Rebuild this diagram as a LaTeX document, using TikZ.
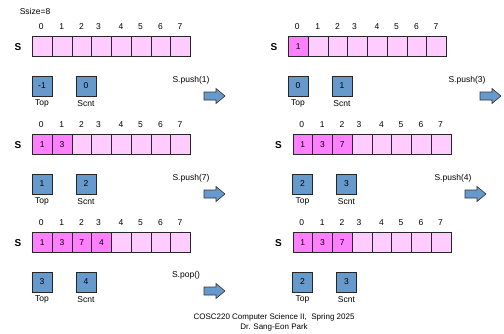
\documentclass[tikz,border=0pt]{standalone}
\usepackage{fontspec}
\setmainfont{Liberation Sans}
\definecolor{pale}{HTML}{FFCCFF}
\definecolor{mag}{HTML}{FF80FF}
\definecolor{boxblue}{HTML}{6699CC}
\newcommand\lblfont{\fontsize{8.5}{10}\selectfont}
\newcommand\footfont{\fontsize{8}{9}\selectfont}
\tikzset{
  cell/.style={draw=black!85, line width=0.8pt, fill=pale, minimum width=19.75pt, minimum height=20pt, inner sep=0pt, anchor=north west, font=\lblfont},
  filled/.style={cell, fill=mag},
  valbox/.style={draw=black!85, line width=0.8pt, fill=boxblue, minimum width=20pt, minimum height=20pt, inner sep=0pt, font=\lblfont},
  lbl/.style={inner sep=0pt, font=\lblfont},
  foot/.style={inner sep=0pt, font=\footfont},
  slabel/.style={inner sep=0pt, font=\fontsize{10}{12}\selectfont\bfseries},
  barrow/.style={draw=black!80, line width=0.6pt, fill=boxblue, line join=miter},
}
\newcommand\stackpanel[6]{%
  \node[slabel] (#1S) at ({#2-14},{#3+11}) {S};
  \foreach \i/\dx in {0/9.3,1/29.8,2/49.4,3/66.5,4/88.9,5/108.6,6/128.4,7/148.1}{
    \node[lbl] (#1i\i) at ({#2+\dx},{#3-9}) {\i};
    \node[cell] (#1c\i) at ({#2+\i*19.75},{#3}) {};
  }
  \if\relax\detokenize{#4}\relax\else
  \foreach \v [count=\k from 0] in {#4}{
    \node[filled] (#1f\k) at ({#2+\k*19.75},{#3}) {\v};
  }\fi
  \node[valbox] (#1top) at ({#2+10},{#3+50}) {#5};
  \node[valbox] (#1cnt) at ({#2+54},{#3+50}) {#6};
  \node[lbl] (#1topl) at ({#2+10},{#3+67.5}) {Top};
  \node[lbl] (#1cntl) at ({#2+54},{#3+67.5}) {Scnt};
}
\newcommand\blockarrow[2]{%
  \draw[barrow] ({#1},{#2-4}) -- ({#1+12},{#2-4}) -- ({#1+12},{#2-7.5}) -- ({#1+21},{#2}) -- ({#1+12},{#2+7.5}) -- ({#1+12},{#2+4}) -- ({#1},{#2+4}) -- cycle;
}
\begin{document}
\begin{tikzpicture}[x=1pt,y=-1pt]
\useasboundingbox (0,0) rectangle (504,333);
\node[lbl] (ssize) at (35,11) {Ssize=8};
% row 1
\stackpanel{a}{32}{36}{}{-1}{0}
\stackpanel{b}{288}{36}{1}{0}{1}
\node[lbl] (op1) at (191,80) {S.push(1)};
\node[lbl] (op2) at (467,80) {S.push(3)};
\blockarrow{204}{96}
\blockarrow{480}{96}
% row 2
\stackpanel{c}{32}{134}{1,3}{1}{2}
\stackpanel{d}{292.5}{134}{1,3,7}{2}{3}
\node[lbl] (op3) at (191,178) {S.push(7)};
\node[lbl] (op4) at (453,178) {S.push(4)};
\blockarrow{204}{194}
\blockarrow{465}{194}
% row 3
\stackpanel{e}{32}{232}{1,3,7,4}{3}{4}
\stackpanel{f}{292.5}{232}{1,3,7}{2}{3}
\node[lbl] (op5) at (186,275) {S.pop()};
\blockarrow{204}{291}
% footer
\node[foot] (foot1) at (274,317) {COSC220 Computer Science II,\ \ Spring 2025};
\node[foot] (foot2) at (274,327) {Dr. Sang-Eon Park};
\end{tikzpicture}
\end{document}
